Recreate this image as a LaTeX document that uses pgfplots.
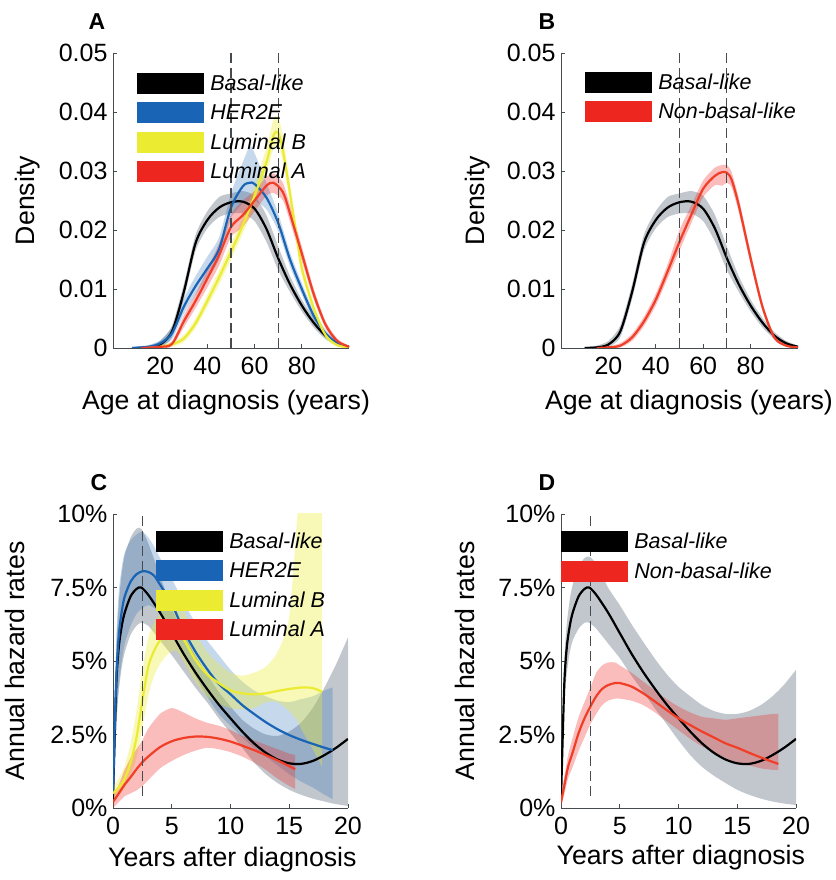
\documentclass[border=0pt]{standalone}
\usepackage{fontspec}
\setmainfont{Liberation Sans}
\usepackage{pgfplots}
\usepackage{pgfplotstable}
\pgfplotsset{compat=1.18}
\usepgfplotslibrary{fillbetween}

\definecolor{myblue}{RGB}{25,100,180}
\definecolor{myyellow}{RGB}{235,235,50}
\definecolor{myred}{RGB}{238,38,32}
\definecolor{redline}{RGB}{240,62,40}
\definecolor{bandgray}{RGB}{100,115,130}
\definecolor{axgray}{RGB}{70,75,80}

% density of age at diagnosis: x, y, lo, hi
\pgfplotstableread{
x y lo hi
10 0 0 0.0002
15 0.0001 0 0.0004
20 0.0006 0.0002 0.0012
25 0.0028 0.0018 0.0038
30 0.0095 0.0083 0.0108
35 0.0178 0.0165 0.0192
40 0.0217 0.0203 0.0232
45 0.0238 0.0222 0.0256
50 0.0247 0.0228 0.0262
55 0.0248 0.0228 0.0266
60 0.0236 0.0215 0.0258
65 0.0202 0.0180 0.0225
70 0.0152 0.0132 0.0172
75 0.0108 0.0095 0.0122
80 0.0072 0.0062 0.0082
85 0.0043 0.0035 0.0051
90 0.0021 0.0015 0.0027
95 0.0008 0.0004 0.0012
100 0.0002 0 0.0004
}\basalA
\pgfplotstableread{
x y lo hi
8 0 0 0.0002
15 0.0002 0 0.0005
20 0.0008 0.0003 0.0013
25 0.0025 0.0015 0.0035
30 0.0070 0.0058 0.0084
35 0.0105 0.0090 0.0122
40 0.0135 0.0118 0.0155
45 0.0168 0.0150 0.0188
50 0.0238 0.0220 0.0262
55 0.0274 0.0245 0.0315
58 0.0280 0.0250 0.0342
60 0.0278 0.0250 0.0330
65 0.0255 0.0235 0.0280
70 0.0212 0.0198 0.0228
75 0.0150 0.0138 0.0162
80 0.0100 0.0090 0.0110
85 0.0055 0.0047 0.0063
90 0.0025 0.0019 0.0031
95 0.0008 0.0004 0.0012
100 0.0002 0 0.0004
}\herA
\pgfplotstableread{
x y lo hi
15 0 0 0.0002
20 0.0002 0 0.0005
25 0.0006 0.0002 0.0010
30 0.0016 0.0010 0.0022
35 0.0042 0.0034 0.0050
40 0.0080 0.0070 0.0090
45 0.0120 0.0108 0.0132
50 0.0163 0.0150 0.0176
55 0.0208 0.0194 0.0222
60 0.0258 0.0242 0.0276
65 0.0315 0.0295 0.0340
68 0.0360 0.0338 0.0388
70 0.0365 0.0342 0.0392
72 0.0335 0.0315 0.0358
75 0.0262 0.0246 0.0278
78 0.0185 0.0172 0.0198
80 0.0135 0.0124 0.0146
85 0.0068 0.0060 0.0076
90 0.0022 0.0017 0.0027
95 0.0005 0.0002 0.0008
100 0.0001 0 0.0003
}\lumbA
\pgfplotstableread{
x y lo hi
12 0 0 0.0002
20 0.0002 0 0.0005
25 0.0007 0.0003 0.0011
30 0.0045 0.0035 0.0055
35 0.0080 0.0068 0.0092
40 0.0118 0.0103 0.0133
45 0.0158 0.0140 0.0178
50 0.0205 0.0188 0.0226
55 0.0225 0.0205 0.0250
60 0.0250 0.0232 0.0266
65 0.0275 0.0258 0.0290
68 0.0280 0.0263 0.0296
72 0.0264 0.0250 0.0280
75 0.0228 0.0214 0.0242
80 0.0160 0.0148 0.0172
85 0.0092 0.0083 0.0101
90 0.0040 0.0034 0.0046
95 0.0012 0.0008 0.0016
100 0.0002 0 0.0004
}\lumaA
\pgfplotstableread{
x y lo hi
15 0 0 0.0002
20 0.0001 0 0.0003
25 0.0004 0.0001 0.0008
30 0.0018 0.0012 0.0024
35 0.0045 0.0037 0.0053
40 0.0082 0.0072 0.0092
45 0.0130 0.0118 0.0142
50 0.0180 0.0165 0.0200
55 0.0226 0.0212 0.0242
60 0.0270 0.0256 0.0284
65 0.0292 0.0276 0.0306
68 0.0298 0.0275 0.0310
70 0.0297 0.0280 0.0310
72 0.0285 0.0272 0.0298
75 0.0242 0.0230 0.0254
80 0.0152 0.0142 0.0162
85 0.0070 0.0063 0.0077
90 0.0018 0.0014 0.0022
95 0.0004 0.0002 0.0007
100 0.0001 0 0.0002
}\nonbasB

% annual hazard rates (%): x, y, lo, hi
\pgfplotstableread{
x y loC hiC loD hiD
0 0.3 0.1 0.6 0.1 0.5
0.15 2.5 1.6 3.3 1.8 3.0
0.3 4.4 3.0 5.6 3.7 5.2
0.5 5.5 4.0 7.0 4.6 6.3
0.75 6.2 4.8 8.0 5.3 7.1
1 6.65 5.3 8.6 5.7 7.6
1.5 7.2 5.9 9.2 6.1 8.2
2 7.45 6.2 9.5 6.3 8.5
2.4 7.5 6.3 9.5 6.3 8.55
3 7.25 6.2 9.0 6.1 8.3
4 6.65 5.7 7.9 5.6 7.5
5 5.95 5.2 6.8 5.1 6.9
6 5.25 4.65 5.95 4.5 6.25
7 4.62 4.1 5.2 3.95 5.65
8 4.05 3.6 4.55 3.38 5.07
9 3.52 3.05 3.95 2.85 4.55
10 3.05 2.55 3.45 2.3 4.12
11 2.6 2.05 3.0 1.8 3.8
12 2.2 1.55 2.7 1.4 3.5
13 1.88 1.15 2.5 1.1 3.3
14 1.65 0.85 2.45 0.85 3.2
15 1.52 0.62 2.6 0.62 3.2
16 1.5 0.45 2.9 0.45 3.3
17 1.6 0.32 3.4 0.32 3.5
18 1.8 0.22 4.1 0.22 3.8
19 2.05 0.13 4.9 0.15 4.2
20 2.35 0.07 5.8 0.1 4.7
}\basalH
\pgfplotstableread{
x y lo hi
0 0.5 0.2 0.8
0.15 2.8 1.6 3.8
0.3 4.6 3.0 6.0
0.5 5.9 4.2 7.4
0.75 6.7 5.0 8.2
1 7.2 5.6 8.7
1.5 7.7 6.2 9.1
2 7.95 6.6 9.3
2.5 8.05 6.8 9.4
3 8.03 6.9 9.2
3.5 7.9 6.8 8.9
4 7.6 6.6 8.5
5 6.95 6.1 7.8
6 6.05 5.3 7.0
7 5.33 4.5 6.3
8 4.73 3.8 5.7
9 4.22 3.2 5.2
10 3.87 2.8 4.7
11 3.5 2.4 4.3
12 3.2 2.05 4.0
13 2.92 1.75 3.8
14 2.68 1.45 3.65
15 2.48 1.15 3.6
16 2.32 0.9 3.7
17 2.18 0.7 3.8
18 2.05 0.45 4.0
18.7 1.97 0.3 4.1
}\herH
\pgfplotstableread{
x y lo hi
0 0.5 0.3 0.7
0.5 0.7 0.45 1.0
1 1.0 0.7 1.45
1.5 1.55 1.1 2.2
2 2.4 1.7 3.3
2.5 3.65 2.7 4.7
3 4.8 3.8 5.8
3.5 5.35 4.5 6.3
4 5.7 4.9 6.6
4.7 6.0 5.25 6.9
5.4 6.08 5.35 7.0
6 5.75 5.0 6.7
7 5.05 4.3 5.95
8 4.55 3.8 5.3
9 4.25 3.55 4.9
10 4.0 3.4 4.6
11 3.9 3.35 4.5
12 3.87 3.4 4.6
13 3.9 3.6 4.8
14 3.98 3.6 5.3
15 4.05 3.3 6.5
15.8 4.09 2.9 10.5
16 4.1 2.7 10.5
17 4.08 2.0 10.5
17.8 3.95 1.4 10.5
}\lumbH
\pgfplotstableread{
x y lo hi
0 0.2 0.0 0.4
0.5 0.5 0.2 0.8
1 0.8 0.4 1.3
1.5 1.05 0.5 1.7
2 1.32 0.6 2.0
2.5 1.56 0.75 2.3
3 1.75 0.95 2.7
4 2.07 1.35 3.2
5 2.27 1.6 3.4
6 2.38 1.8 3.25
7 2.43 1.95 3.05
8 2.42 2.05 2.9
9 2.36 2.0 2.8
10 2.26 1.9 2.65
11 2.12 1.75 2.45
12 1.97 1.55 2.3
13 1.8 1.3 2.15
14 1.62 1.0 2.0
15 1.42 0.75 1.85
15.5 1.32 0.65 1.8
}\lumaH
\pgfplotstableread{
x y lo hi
0 0.2 0.05 0.4
0.3 0.8 0.5 1.1
0.6 1.4 1.0 1.8
1 1.9 1.4 2.4
1.5 2.55 1.95 3.1
2 3.05 2.4 3.6
2.5 3.45 2.85 4.1
3 3.8 3.2 4.6
3.5 4.05 3.5 4.85
4 4.18 3.65 4.95
4.6 4.25 3.72 4.95
5 4.25 3.72 4.85
6 4.13 3.65 4.6
7 3.9 3.5 4.3
8 3.62 3.25 4.0
9 3.33 2.95 3.7
10 3.05 2.65 3.45
11 2.82 2.35 3.25
12 2.6 2.1 3.1
13 2.4 1.9 3.05
14 2.2 1.7 3.0
15 2.05 1.55 3.05
16 1.88 1.45 3.1
17 1.72 1.35 3.15
18 1.57 1.3 3.2
18.5 1.5 1.3 3.2
}\nonbasH

% band: table, lo column, hi column, fill style, unique name
\newcommand{\band}[5]{%
  \addplot[name path=#5u, draw=none, forget plot, smooth, tension=0.4] table[x=x,y=#3]{#1};
  \addplot[name path=#5l, draw=none, forget plot, smooth, tension=0.4] table[x=x,y=#2]{#1};
  \addplot[#4, draw=none, forget plot] fill between[of=#5u and #5l];
}

\pgfplotsset{
  panel/.style={
    scale only axis,
    axis x line*=bottom, axis y line*=left,
    tick align=inside, major tick length=4pt,
    axis line style={draw=axgray, line width=0.9pt},
    every tick/.style={axgray, line width=0.9pt},
    /pgf/number format/assume math mode=true,
    ticklabel style={font=\fontsize{25}{30}\selectfont},
    xticklabel style={yshift=-6pt},
    yticklabel style={xshift=-2pt},
    label style={font=\fontsize{26.7}{32}\selectfont},
    legend cell align=left,
    legend image code/.code={\fill[##1] (0pt,-10pt) rectangle (66pt,10pt); \path (72pt,0pt);},
    legend style={draw=none, fill=none, inner sep=0pt, outer sep=0pt, anchor=north west,
      row sep=9pt, nodes={inner sep=1pt}, font=\fontsize{21.5}{24}\selectfont\itshape},
  },
  dens/.style={panel, width=236pt, height=295pt,
    xmin=0, xmax=100, ymin=0, ymax=0.05,
    xtick={20,40,60,80}, ytick={0,0.01,0.02,0.03,0.04,0.05},
    scaled y ticks=false,
    yticklabel style={/pgf/number format/.cd, fixed, precision=2},
    xlabel={Age at diagnosis (years)}, ylabel={Density}},
  haz/.style={panel, width=235pt, height=294pt,
    xmin=0, xmax=20, ymin=0, ymax=10,
    xtick={0,5,10,15,20}, ytick={0,2.5,5,7.5,10},
    yticklabels={0\%,2.5\%,5\%,7.5\%,10\%},
    xlabel={Years after diagnosis}, ylabel={Annual hazard rates}},
  curve/.style={line width=2.2pt, smooth, forget plot},
  vref/.style={color=axgray, line width=1.1pt, dash pattern=on 10pt off 5pt, forget plot},
  grayband/.style={fill=bandgray, fill opacity=0.4},
}

\begin{document}
\begin{tikzpicture}

% ---------- A ----------
\begin{axis}[dens, at={(113pt,532pt)}, anchor=south west,
  xlabel style={at={(axis description cs:0.479,-0.186)}, anchor=center},
  ylabel style={at={(axis description cs:-0.36,0.5)}, anchor=center},
  legend style={at={(0.1017,0.932)}}]
\band{\basalA}{lo}{hi}{grayband}{ab}
\band{\herA}{lo}{hi}{fill=myblue, fill opacity=0.25}{ah}
\band{\lumbA}{lo}{hi}{fill=myyellow, fill opacity=0.35}{alb}
\band{\lumaA}{lo}{hi}{fill=myred, fill opacity=0.3}{ala}
\addplot[curve, black] table[x=x,y=y]{\basalA};
\addplot[curve, myblue] table[x=x,y=y]{\herA};
\addplot[curve, myyellow] table[x=x,y=y]{\lumbA};
\addplot[curve, redline] table[x=x,y=y]{\lumaA};
\addplot[vref] coordinates {(50,0) (50,0.05)};
\addplot[vref] coordinates {(70,0) (70,0.05)};
\addlegendimage{black}\addlegendentry{Basal-like}
\addlegendimage{myblue}\addlegendentry{HER2E}
\addlegendimage{myyellow}\addlegendentry{Luminal B}
\addlegendimage{myred}\addlegendentry{Luminal A}
\end{axis}

% ---------- B ----------
\begin{axis}[dens, at={(561pt,532pt)}, anchor=south west, width=237pt,
  xlabel style={at={(axis description cs:0.54,-0.186)}, anchor=center},
  ylabel style={at={(axis description cs:-0.354,0.5)}, anchor=center},
  legend style={at={(0.101,0.936)}}]
\band{\basalA}{lo}{hi}{grayband}{bb}
\band{\nonbasB}{lo}{hi}{fill=myred, fill opacity=0.3}{bn}
\addplot[curve, black] table[x=x,y=y]{\basalA};
\addplot[curve, redline] table[x=x,y=y]{\nonbasB};
\addplot[vref] coordinates {(50,0) (50,0.05)};
\addplot[vref] coordinates {(70,0) (70,0.05)};
\addlegendimage{black}\addlegendentry{Basal-like}
\addlegendimage{myred}\addlegendentry{Non-basal-like}
\end{axis}

% ---------- C ----------
\begin{axis}[haz, at={(113pt,72pt)}, anchor=south west,
  xlabel style={at={(axis description cs:0.508,-0.177)}, anchor=center},
  ylabel style={at={(axis description cs:-0.417,0.5)}, anchor=center},
  legend style={at={(0.183,0.942)}}]
\band{\basalH}{loC}{hiC}{grayband}{cb}
\band{\herH}{lo}{hi}{fill=myblue, fill opacity=0.25}{ch}
\band{\lumbH}{lo}{hi}{fill=myyellow, fill opacity=0.35}{clb}
\band{\lumaH}{lo}{hi}{fill=myred, fill opacity=0.3}{cla}
\addplot[curve, black] table[x=x,y=y]{\basalH};
\addplot[curve, myblue] table[x=x,y=y]{\herH};
\addplot[curve, myyellow] table[x=x,y=y]{\lumbH};
\addplot[curve, redline] table[x=x,y=y]{\lumaH};
\addplot[vref] coordinates {(2.5,0.4) (2.5,10)};
\addlegendimage{black}\addlegendentry{Basal-like}
\addlegendimage{myblue}\addlegendentry{HER2E}
\addlegendimage{myyellow}\addlegendentry{Luminal B}
\addlegendimage{myred}\addlegendentry{Luminal A}
\end{axis}

% ---------- D ----------
\begin{axis}[haz, at={(561pt,72pt)}, anchor=south west,
  xlabel style={at={(axis description cs:0.51,-0.167)}, anchor=center},
  ylabel style={at={(axis description cs:-0.409,0.5)}, anchor=center},
  legend style={at={(0,0.942)}, row sep=10pt}]
\band{\basalH}{loD}{hiD}{grayband}{db}
\band{\nonbasH}{lo}{hi}{fill=myred, fill opacity=0.3}{dn}
\addplot[curve, black] table[x=x,y=y]{\basalH};
\addplot[curve, redline] table[x=x,y=y]{\nonbasH};
\addplot[vref] coordinates {(2.5,0.4) (2.5,10)};
\addlegendimage{black}\addlegendentry{Basal-like}
\addlegendimage{myred}\addlegendentry{Non-basal-like}
\end{axis}

\node[font=\bfseries\fontsize{23}{26}\selectfont] at (97pt,858pt) {A};
\node[font=\bfseries\fontsize{23}{26}\selectfont] at (547pt,858pt) {B};
\node[font=\bfseries\fontsize{23}{26}\selectfont] at (99pt,397pt) {C};
\node[font=\bfseries\fontsize{23}{26}\selectfont] at (547pt,397pt) {D};

\pgfresetboundingbox
\useasboundingbox (0,0) rectangle (835pt,880pt);
\end{tikzpicture}
\end{document}
